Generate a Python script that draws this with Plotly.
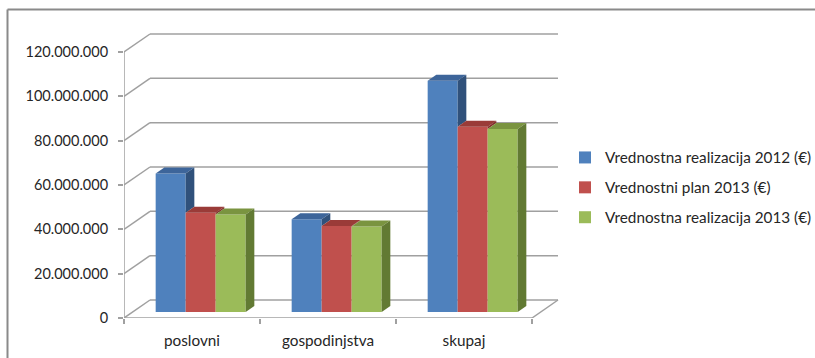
import plotly.graph_objects as go

# ---- data -------------------------------------------------------------
CATEGORIES = ["poslovni", "gospodinjstva", "skupaj"]
SERIES = [
    "Vrednostna realizacija 2012 (€)",
    "Vrednostni plan 2013 (€)",
    "Vrednostna realizacija 2013 (€)",
]
REAL_2012 = [62.5e6, 41.8e6, 104.3e6]
PLAN_2013 = [44.8e6, 38.8e6, 83.6e6]
REAL_2013 = [44.0e6, 38.6e6, 82.6e6]
Y_TICKS = [0, 20e6, 40e6, 60e6, 80e6, 100e6, 120e6]

VALUES = [REAL_2012, PLAN_2013, REAL_2013]

# ---- styles -------------------------------------------------------------
FRONT = ["#4F81BD", "#C0504D", "#9BBB59"]
TOP = ["#3D659A", "#9A3B38", "#7A9440"]
SIDE = ["#30517B", "#85302D", "#627A33"]
GRID = "#A0A0A0"
TEXT = "#262626"
FONT = dict(family="Lato", size=15.3, color=TEXT)
TICK_FONT = dict(family="Lato", size=14.5, color=TEXT)

# ---- geometry (oblique projection) -------------------------------------
W, H = 815, 358
L_PX, R_PX, T_PX, B_PX = 124, 560, 30, 318          # plot area in pixels
PX_PER_CAT = 136.0                                  # pixels per category
PX_PER_EUR = 266.0 / 120e6                          # pixels per euro
DEPTH_DX = 26.0 / PX_PER_CAT                        # wall depth, x units
DEPTH_DY = 18.0 / PX_PER_EUR                        # wall depth, y units
D_FRONT, D_BACK = 1 / 3, 2 / 3                      # bar depth inside wall
BAR_W = 30.0 / PX_PER_CAT

X0 = -0.5
X1 = X0 + len(CATEGORIES)
x_range = [X0, X0 + (R_PX - L_PX) / PX_PER_CAT]
y_range = [0, (B_PX - T_PX) / PX_PER_EUR]


def paper_x(px):
    return (px - L_PX) / (R_PX - L_PX)


def paper_y(py):
    return (B_PX - py) / (B_PX - T_PX)


fig = go.Figure()

# front faces as bars, top/side faces as filled polygons
fx, fy = D_FRONT * DEPTH_DX, D_FRONT * DEPTH_DY
bdx, bdy = (D_BACK - D_FRONT) * DEPTH_DX, (D_BACK - D_FRONT) * DEPTH_DY
n = len(SERIES)
for k, (name, vals) in enumerate(zip(SERIES, VALUES)):
    off = (k - n / 2) * BAR_W
    fig.add_trace(go.Bar(
        x=[i + fx for i in range(len(CATEGORIES))],
        y=vals,
        base=[fy] * len(vals),
        width=BAR_W,
        offset=off,
        name=name,
        legendgroup=name,
        marker=dict(color=FRONT[k], line=dict(width=0)),
        hoverinfo="skip",
    ))

for i in range(len(CATEGORIES)):
    for k in range(n):
        v = VALUES[k][i]
        xl = i + fx + (k - n / 2) * BAR_W
        xr = xl + BAR_W
        top_front = v + fy
        # top face
        fig.add_trace(go.Scatter(
            x=[xl, xr, xr + bdx, xl + bdx, xl],
            y=[top_front, top_front, top_front + bdy, top_front + bdy, top_front],
            fill="toself", fillcolor=TOP[k], mode="none",
            showlegend=False, hoverinfo="skip",
        ))
        # visible part of the right side face
        lo = min(v, VALUES[k + 1][i]) if k + 1 < n else 0
        fig.add_trace(go.Scatter(
            x=[xr, xr + bdx, xr + bdx, xr, xr],
            y=[lo + fy, lo + fy + bdy, top_front + bdy, top_front, lo + fy],
            fill="toself", fillcolor=SIDE[k], mode="none",
            showlegend=False, hoverinfo="skip",
        ))

# back wall gridlines, floor and front value axis
shapes = []
line = dict(color=GRID, width=1.5)
for v in Y_TICKS:
    shapes.append(dict(type="line", xref="x", yref="y", layer="below",
                       x0=X0, y0=v, x1=X0 + DEPTH_DX, y1=v + DEPTH_DY, line=line))
    shapes.append(dict(type="line", xref="x", yref="y", layer="below",
                       x0=X0 + DEPTH_DX, y0=v + DEPTH_DY,
                       x1=X1 + DEPTH_DX, y1=v + DEPTH_DY, line=line))
shapes.append(dict(type="line", xref="x", yref="y", layer="below",
                   x0=X0, y0=0, x1=X1, y1=0, line=line))
shapes.append(dict(type="line", xref="x", yref="y", layer="below",
                   x0=X1, y0=0, x1=X1 + DEPTH_DX, y1=DEPTH_DY, line=line))
shapes.append(dict(type="line", xref="x", yref="y", layer="below",
                   x0=X0, y0=0, x1=X0, y1=max(Y_TICKS), line=line))

# chart frame
frame = dict(color="#8A8A8A", width=2)
shapes.append(dict(type="line", xref="paper", yref="paper",
                   x0=paper_x(7.5), y0=paper_y(W), x1=paper_x(7.5), y1=paper_y(9.5),
                   line=frame))
shapes.append(dict(type="line", xref="paper", yref="paper",
                   x0=paper_x(7.5), y0=paper_y(9.5), x1=paper_x(W + 10), y1=paper_y(9.5),
                   line=frame))

fig.update_layout(
    width=W, height=H,
    margin=dict(l=L_PX, r=W - R_PX, t=T_PX, b=H - B_PX, autoexpand=False),
    paper_bgcolor="white", plot_bgcolor="white",
    font=FONT,
    separators=",.",
    barmode="overlay",
    shapes=shapes,
    showlegend=True,
    legend=dict(
        x=paper_x(565), y=paper_y(141), xanchor="left", yanchor="top",
        font=FONT, tracegroupgap=7, bgcolor="rgba(0,0,0,0)",
    ),
    xaxis=dict(
        range=x_range, showgrid=False, zeroline=False, showline=False,
        tickmode="array", tickvals=list(range(len(CATEGORIES))),
        ticktext=CATEGORIES, ticks="", ticklabelstandoff=12,
        tickfont=FONT,
        minor=dict(ticks="outside", tickmode="linear", tick0=X0, dtick=1,
                   ticklen=5, tickwidth=1.5, tickcolor=GRID, showgrid=False),
        fixedrange=True,
    ),
    yaxis=dict(
        range=y_range, showgrid=False, zeroline=False, showline=False,
        tickmode="array", tickvals=Y_TICKS, tickformat=",d",
        ticks="outside", ticklen=5, tickwidth=1.5, tickcolor=GRID,
        ticklabelstandoff=7, tickfont=TICK_FONT,
        fixedrange=True,
    ),
)

fig.write_html("out.html")
